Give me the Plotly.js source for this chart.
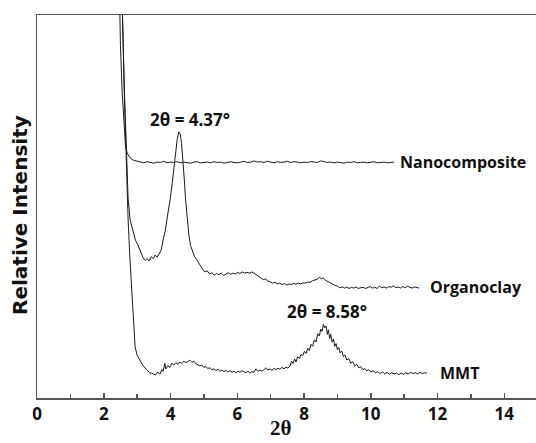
<!DOCTYPE html>
<html><head><meta charset="utf-8">
<script src="https://cdn.plot.ly/plotly-3.0.1.min.js"></script>
<style>html,body{margin:0;padding:0;background:#fff}#chart{width:536px;height:443px}</style>
</head><body><div id="chart"></div>
<script>
// Nanocomposite
const nanoX = [2.40,2.45,2.50,2.55,2.60,2.65,2.70,2.78,2.88,3.0,3.1,3.2,3.3,3.4,3.5,3.6,3.7,3.8,3.9,4.0,4.1,4.2,4.3,4.4,4.5,4.6,4.7,4.8,4.9,5.0,5.1,5.2,5.3,5.4,5.5,5.6,5.7,5.8,5.9,6.0,6.1,6.2,6.3,6.4,6.5,6.6,6.7,6.8,6.9,7.0,7.1,7.2,7.3,7.4,7.5,7.6,7.7,7.8,7.9,8.0,8.1,8.2,8.3,8.4,8.5,8.6,8.7,8.8,8.9,9.0,9.1,9.2,9.3,9.4,9.5,9.6,9.7,9.8,9.9,10.0,10.1,10.2,10.3,10.4,10.5,10.6,10.7];
const nanoY = [140,110,92,80,71,66,64,62.8,62.1,61.8,61.6,61.4,61.7,61.5,61.3,61.6,61.5,61.8,61.4,61.6,61.5,61.7,61.4,61.6,61.5,61.3,61.6,61.7,61.4,61.5,61.6,61.4,61.7,61.5,61.6,61.3,61.5,61.7,61.5,61.4,61.6,61.8,61.5,61.6,61.9,61.6,61.7,61.5,61.8,61.6,61.4,61.7,61.5,61.6,61.8,61.5,61.7,61.6,61.4,61.6,61.5,61.7,61.6,61.5,61.9,61.7,61.5,61.6,61.4,61.6,61.5,61.3,61.6,61.5,61.7,61.4,61.5,61.6,61.4,61.5,61.7,61.4,61.5,61.6,61.4,61.5,61.6];

// Organoclay
const orgX = [2.50,2.56,2.62,2.68,2.73,2.79,2.88,2.95,3.02,3.09,3.14,3.18,3.24,3.30,3.36,3.42,3.48,3.54,3.60,3.66,3.72,3.78,3.84,3.89,3.95,4.00,4.05,4.10,4.15,4.20,4.25,4.29,4.33,4.37,4.41,4.45,4.50,4.55,4.60,4.66,4.72,4.78,4.84,4.90,4.96,5.03,5.10,5.17,5.24,5.31,5.38,5.45,5.52,5.59,5.66,5.73,5.80,5.87,5.94,6.01,6.08,6.15,6.22,6.29,6.36,6.43,6.50,6.57,6.64,6.71,6.78,6.85,6.92,6.99,7.06,7.13,7.20,7.27,7.34,7.41,7.48,7.55,7.62,7.69,7.76,7.83,7.90,7.97,8.04,8.11,8.18,8.25,8.32,8.39,8.46,8.52,8.58,8.65,8.72,8.79,8.86,8.93,9.00,9.07,9.14,9.21,9.28,9.35,9.42,9.49,9.56,9.63,9.70,9.77,9.84,9.91,9.98,10.05,10.12,10.19,10.26,10.33,10.40,10.47,10.54,10.61,10.68,10.75,10.82,10.89,10.96,11.03,11.10,11.17,11.24,11.31,11.38,11.45];
const orgY = [140,100,80,62,52,46.5,43.1,41.2,40.0,38.6,37.4,36.6,35.9,36.4,35.8,36.9,36.4,37.3,36.8,37.9,38.6,41.3,43.5,46.5,49.5,52.5,56,60,64,67.5,69.5,69.0,66.5,62.5,57.5,52,46.5,42.5,39.8,38.2,36.9,36.2,35.3,34.6,33.6,32.9,33.2,32.4,32.7,32.1,32.5,32.2,32.6,32.0,32.4,32.7,32.3,32.6,32.4,32.8,32.5,32.9,32.6,32.8,32.6,32.9,32.6,32.2,31.8,31.5,30.9,31.1,30.5,30.3,30.0,30.2,29.8,30.0,29.6,29.9,29.5,29.8,29.6,29.9,29.7,30.0,29.8,30.1,30.0,30.3,30.2,30.6,30.8,31.0,31.5,31.1,31.3,30.7,30.4,30.0,29.7,29.4,29.2,28.8,29.0,28.7,28.9,28.6,28.9,28.7,29.0,28.6,28.8,28.9,28.6,28.8,29.1,28.7,28.9,28.6,29.2,28.8,29.0,28.7,29.1,28.9,29.3,28.8,29.0,28.7,29.1,28.8,29.2,28.9,28.7,29.0,28.8,28.7];

// MMT
const mmtX = [2.50,2.56,2.62,2.68,2.73,2.78,2.84,2.89,2.94,3.00,3.09,3.18,3.29,3.38,3.48,3.55,3.62,3.68,3.74,3.78,3.83,3.86,3.92,3.98,4.04,4.10,4.16,4.22,4.28,4.34,4.40,4.46,4.52,4.58,4.64,4.70,4.76,4.82,4.88,4.94,5.00,5.06,5.12,5.18,5.24,5.30,5.36,5.42,5.48,5.54,5.60,5.66,5.72,5.78,5.84,5.90,5.96,6.02,6.08,6.14,6.20,6.26,6.32,6.38,6.44,6.50,6.56,6.62,6.68,6.74,6.80,6.86,6.92,6.98,7.04,7.10,7.16,7.22,7.28,7.34,7.40,7.46,7.52,7.58,7.63,7.67,7.72,7.76,7.81,7.86,7.91,7.96,8.01,8.06,8.11,8.16,8.21,8.26,8.31,8.36,8.41,8.46,8.50,8.54,8.58,8.62,8.66,8.70,8.73,8.77,8.80,8.84,8.88,8.92,8.96,9.00,9.04,9.08,9.13,9.18,9.23,9.28,9.34,9.40,9.46,9.52,9.58,9.64,9.70,9.76,9.82,9.88,9.94,10.00,10.07,10.14,10.21,10.28,10.35,10.42,10.49,10.56,10.63,10.70,10.77,10.84,10.91,10.98,11.05,11.12,11.19,11.26,11.33,11.40,11.47,11.54,11.61,11.68];
const mmtY = [140,100,78,58,46.5,37,29,20.5,13.3,11.2,9.9,8.4,7.3,6.6,6.3,6.0,6.8,6.2,7.4,7.0,9.0,7.6,8.4,8.0,9.1,8.6,9.2,8.8,9.4,9.0,9.6,9.2,9.5,9.9,9.3,9.6,8.9,8.7,8.4,8.6,8.0,8.2,7.7,7.9,7.4,7.6,7.2,7.5,7.0,7.3,6.9,7.2,6.8,7.1,6.7,7.0,6.6,7.0,6.7,7.1,6.8,6.6,7.0,6.5,6.9,6.7,7.6,6.9,7.3,7.0,7.4,7.9,7.3,7.6,7.2,7.7,7.4,7.8,7.5,8.0,7.6,8.1,7.8,8.4,9.6,9.0,10.2,9.4,10.8,10.3,11.4,11.0,12.2,11.6,13.0,12.4,14.0,13.5,15.2,14.6,16.8,16.2,18.0,17.4,19.2,18.3,18.8,16.6,17.8,15.5,16.6,14.6,15.4,13.5,14.2,12.6,13.2,11.8,12.3,10.8,11.2,9.9,10.3,9.1,9.5,8.4,8.8,7.9,8.2,7.4,7.7,7.1,7.4,6.8,7.1,6.6,6.9,6.4,6.8,6.3,6.7,6.2,6.6,6.3,6.5,6.1,6.5,6.2,6.6,6.3,6.7,6.4,6.6,6.3,6.7,6.4,6.6,6.5];

const seriesNames = ["Nanocomposite","Organoclay","MMT"];
const xTickVals = [0,2,4,6,8,10,12,14];
const xTickText = ["0","2","4","6","8","10","12","14"];
const peakLabels = ["2θ = 4.37°","2θ = 8.58°"];
const axisTitles = ["2θ","Relative Intensity"];

const lineStyle = {color:'#1a1a1a', width:1};
const traces = [
  {x:nanoX, y:nanoY, name:seriesNames[0], mode:'lines', line:lineStyle},
  {x:orgX, y:orgY, name:seriesNames[1], mode:'lines', line:lineStyle},
  {x:mmtX, y:mmtY, name:seriesNames[2], mode:'lines', line:lineStyle}
];

const labFont = {family:'Open Sans, Noto Sans, sans-serif', size:16, color:'#111', weight:'bold'};
const peakFont = {family:'Open Sans, Noto Sans, sans-serif', size:17, color:'#111', weight:'bold'};
const layout = {
  width:536, height:443,
  margin:{l:37, r:0, t:15, b:45},
  paper_bgcolor:'#fff', plot_bgcolor:'#fff',
  showlegend:false,
  xaxis:{
    range:[0,14.95], showgrid:false, zeroline:false,
    showline:true, linecolor:'#555', linewidth:1.5, mirror:true,
    ticks:'inside', ticklen:5, tickcolor:'#555', tickwidth:1.5,
    tickvals:xTickVals, ticktext:xTickText,
    minor:{dtick:1, tick0:0, ticks:'inside', ticklen:4, tickcolor:'#555', tickwidth:1.5},
    tickfont:{family:'Open Sans, Noto Sans, sans-serif', size:17, color:'#111', weight:'bold'}
  },
  yaxis:{
    range:[0,100], showgrid:false, zeroline:false,
    showline:true, linecolor:'#555', linewidth:1.5,
    showticklabels:false, ticks:''
  },
  annotations:[
    {xref:'x', yref:'y', x:10.81, y:61.6, text:seriesNames[0], showarrow:false, xanchor:'left', yanchor:'middle', font:labFont},
    {xref:'x', yref:'y', x:11.71, y:29.0, text:seriesNames[1], showarrow:false, xanchor:'left', yanchor:'middle', font:labFont},
    {xref:'x', yref:'y', x:12.01, y:6.5, text:seriesNames[2], showarrow:false, xanchor:'left', yanchor:'middle', font:labFont},
    {xref:'x', yref:'y', x:4.58, y:72.6, text:peakLabels[0], showarrow:false, xanchor:'center', yanchor:'middle', font:peakFont},
    {xref:'x', yref:'y', x:8.69, y:22.5, text:peakLabels[1], showarrow:false, xanchor:'center', yanchor:'middle', font:peakFont},
    {xref:'paper', yref:'paper', x:0.489, y:-0.078, text:axisTitles[0], showarrow:false, xanchor:'center', yanchor:'middle', borderpad:0, font:{family:'Liberation Serif, Times New Roman, serif', size:21, color:'#111', weight:'bold'}},
    {xref:'paper', yref:'paper', x:-0.034, y:0.478, text:axisTitles[1], textangle:-90, showarrow:false, xanchor:'center', yanchor:'middle', font:{family:'DejaVu Sans, sans-serif', size:20, color:'#111', weight:'bold'}}
  ]
};
Plotly.newPlot('chart', traces, layout, {displayModeBar:false, staticPlot:true});
</script>
</body></html>
